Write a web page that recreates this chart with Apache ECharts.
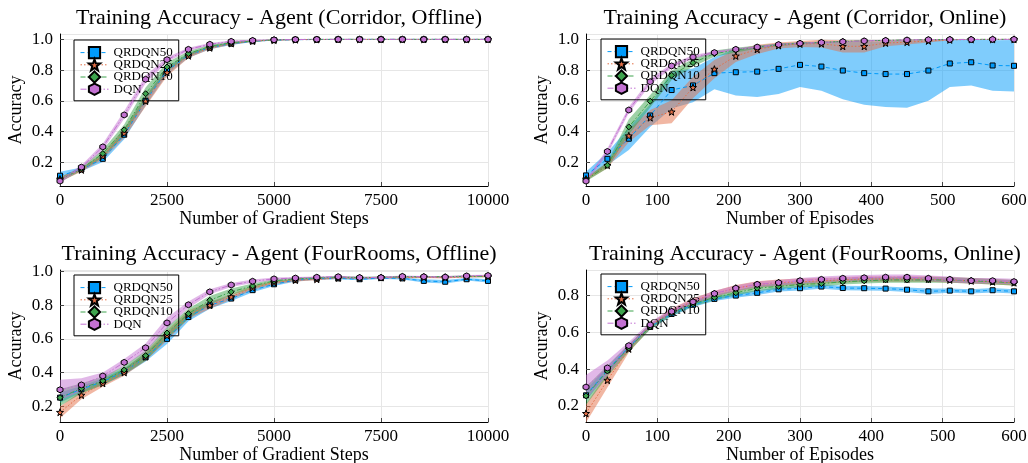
<!DOCTYPE html>
<html>
<head>
<meta charset="utf-8">
<script src="https://cdn.jsdelivr.net/npm/echarts@6.0.0/dist/echarts.min.js"></script>
<style>
html, body { margin: 0; padding: 0; background: #fff; }
#chart { width: 1028px; height: 463px; }
</style>
</head>
<body>
<div id="chart"></div>
<script>
// x positions
var steps = [0, 500, 1000, 1500, 2000, 2500, 3000, 3500, 4000, 4500, 5000, 5500, 6000, 6500, 7000, 7500, 8000, 8500, 9000, 9500, 10000]
var episodes = [0, 30, 60, 90, 120, 150, 180, 210, 240, 270, 300, 330, 360, 390, 420, 450, 480, 510, 540, 570, 600]

// Corridor, offline
var coOff50 = [0.112, 0.153, 0.222, 0.379, 0.600, 0.795, 0.896, 0.946, 0.972, 0.988, 0.995, 0.998, 0.999, 1.0, 1.0, 1.0, 1.0, 1.0, 1.0, 1.0, 1.0]
var coOff25 = [0.090, 0.150, 0.240, 0.390, 0.598, 0.785, 0.893, 0.945, 0.973, 0.989, 0.995, 0.998, 0.999, 1.0, 1.0, 1.0, 1.0, 1.0, 1.0, 1.0, 1.0]
var coOff10 = [0.085, 0.157, 0.256, 0.411, 0.646, 0.820, 0.907, 0.955, 0.978, 0.990, 0.996, 0.999, 1.0, 1.0, 1.0, 1.0, 1.0, 1.0, 1.0, 1.0, 1.0]
var coOffDqn = [0.077, 0.168, 0.300, 0.508, 0.740, 0.868, 0.935, 0.968, 0.987, 0.993, 0.997, 0.999, 1.0, 1.0, 1.0, 1.0, 1.0, 1.0, 1.0, 1.0, 1.0]
var coOff50Sd = [0.025, 0.012, 0.02, 0.03, 0.03, 0.025, 0.015, 0.01, 0.008, 0.005, 0.003, 0.002, 0.001, 0, 0, 0, 0, 0, 0, 0, 0]
var coOff25Sd = [0.015, 0.012, 0.02, 0.03, 0.035, 0.025, 0.015, 0.01, 0.008, 0.005, 0.003, 0.002, 0.001, 0, 0, 0, 0, 0, 0, 0, 0]
var coOff10Sd = [0.015, 0.012, 0.025, 0.035, 0.04, 0.03, 0.015, 0.01, 0.008, 0.005, 0.003, 0.002, 0.001, 0, 0, 0, 0, 0, 0, 0, 0]
var coOffDqnSd = [0.012, 0.012, 0.02, 0.025, 0.025, 0.015, 0.01, 0.008, 0.005, 0.004, 0.003, 0.002, 0.001, 0, 0, 0, 0, 0, 0, 0, 0]

// Corridor, online
var coOn50 = [0.114, 0.222, 0.353, 0.504, 0.670, 0.700, 0.780, 0.786, 0.790, 0.808, 0.834, 0.823, 0.797, 0.780, 0.774, 0.774, 0.797, 0.843, 0.851, 0.830, 0.828]
var coOn25 = [0.090, 0.180, 0.372, 0.490, 0.528, 0.687, 0.806, 0.892, 0.935, 0.960, 0.970, 0.972, 0.955, 0.955, 0.976, 0.982, 0.990, 0.997, 0.999, 1.0, 1.0]
var coOn10 = [0.085, 0.180, 0.430, 0.597, 0.766, 0.848, 0.907, 0.930, 0.950, 0.965, 0.975, 0.980, 0.987, 0.990, 0.994, 0.996, 0.998, 0.999, 1.0, 1.0, 1.0]
var coOnDqn = [0.077, 0.270, 0.540, 0.724, 0.827, 0.885, 0.914, 0.935, 0.950, 0.966, 0.974, 0.980, 0.985, 0.990, 0.993, 0.996, 0.998, 0.999, 0.999, 1.0, 1.0]
var coOn50Sd = [0.024, 0.042, 0.073, 0.074, 0.12, 0.11, 0.105, 0.151, 0.165, 0.163, 0.144, 0.158, 0.187, 0.205, 0.214, 0.219, 0.197, 0.153, 0.151, 0.165, 0.168]
var coOn25Sd = [0.01, 0.02, 0.04, 0.05, 0.075, 0.07, 0.06, 0.04, 0.03, 0.02, 0.02, 0.025, 0.04, 0.04, 0.02, 0.015, 0.01, 0.003, 0.001, 0, 0]
var coOn10Sd = [0.01, 0.02, 0.05, 0.04, 0.03, 0.025, 0.02, 0.015, 0.01, 0.008, 0.006, 0.005, 0.004, 0.003, 0.002, 0.002, 0.001, 0.001, 0, 0, 0]
var coOnDqnSd = [0.01, 0.02, 0.02, 0.02, 0.015, 0.012, 0.01, 0.008, 0.007, 0.006, 0.005, 0.004, 0.003, 0.003, 0.002, 0.002, 0.001, 0.001, 0.001, 0, 0]

// FourRooms, offline
var frOff50 = [0.250, 0.300, 0.345, 0.405, 0.490, 0.600, 0.730, 0.800, 0.840, 0.890, 0.925, 0.950, 0.958, 0.960, 0.955, 0.962, 0.960, 0.945, 0.940, 0.955, 0.945]
var frOff25 = [0.163, 0.265, 0.335, 0.400, 0.495, 0.620, 0.745, 0.800, 0.850, 0.905, 0.935, 0.950, 0.955, 0.963, 0.962, 0.965, 0.965, 0.967, 0.965, 0.970, 0.972]
var frOff10 = [0.250, 0.305, 0.350, 0.415, 0.500, 0.635, 0.750, 0.830, 0.880, 0.915, 0.945, 0.958, 0.963, 0.968, 0.965, 0.966, 0.970, 0.970, 0.970, 0.972, 0.972]
var frOffDqn = [0.297, 0.326, 0.379, 0.460, 0.547, 0.695, 0.803, 0.880, 0.921, 0.943, 0.957, 0.962, 0.967, 0.970, 0.965, 0.965, 0.972, 0.970, 0.968, 0.975, 0.977]
var frOff50Sd = [0.03, 0.02, 0.02, 0.02, 0.025, 0.03, 0.025, 0.02, 0.015, 0.012, 0.01, 0.008, 0.006, 0.005, 0.006, 0.005, 0.006, 0.01, 0.01, 0.008, 0.01]
var frOff25Sd = [0.035, 0.025, 0.02, 0.02, 0.025, 0.03, 0.025, 0.02, 0.015, 0.012, 0.01, 0.008, 0.006, 0.005, 0.005, 0.005, 0.005, 0.005, 0.005, 0.005, 0.005]
var frOff10Sd = [0.05, 0.03, 0.025, 0.025, 0.03, 0.035, 0.03, 0.025, 0.02, 0.015, 0.01, 0.008, 0.006, 0.005, 0.005, 0.005, 0.005, 0.005, 0.005, 0.005, 0.005]
var frOffDqnSd = [0.06, 0.04, 0.02, 0.02, 0.025, 0.03, 0.02, 0.015, 0.012, 0.01, 0.008, 0.006, 0.005, 0.005, 0.005, 0.005, 0.005, 0.005, 0.005, 0.005, 0.005]

// FourRooms, online
var frOn50 = [0.258, 0.395, 0.520, 0.630, 0.700, 0.750, 0.782, 0.800, 0.815, 0.834, 0.840, 0.849, 0.841, 0.840, 0.838, 0.832, 0.823, 0.827, 0.823, 0.829, 0.823]
var frOn25 = [0.160, 0.340, 0.510, 0.635, 0.715, 0.770, 0.810, 0.840, 0.860, 0.870, 0.875, 0.880, 0.885, 0.890, 0.890, 0.890, 0.890, 0.885, 0.880, 0.875, 0.870]
var frOn10 = [0.255, 0.390, 0.515, 0.630, 0.705, 0.755, 0.790, 0.815, 0.840, 0.850, 0.860, 0.865, 0.875, 0.880, 0.885, 0.885, 0.885, 0.885, 0.880, 0.875, 0.870]
var frOnDqn = [0.303, 0.407, 0.528, 0.641, 0.714, 0.766, 0.811, 0.840, 0.861, 0.870, 0.881, 0.888, 0.894, 0.897, 0.900, 0.900, 0.894, 0.888, 0.881, 0.881, 0.876]
var frOn50Sd = [0.03, 0.02, 0.015, 0.012, 0.012, 0.012, 0.012, 0.012, 0.012, 0.012, 0.012, 0.012, 0.012, 0.012, 0.012, 0.012, 0.015, 0.012, 0.012, 0.012, 0.012]
var frOn25Sd = [0.05, 0.04, 0.02, 0.015, 0.015, 0.015, 0.015, 0.018, 0.018, 0.018, 0.018, 0.015, 0.015, 0.015, 0.015, 0.015, 0.015, 0.015, 0.015, 0.015, 0.015]
var frOn10Sd = [0.05, 0.03, 0.02, 0.015, 0.015, 0.015, 0.015, 0.015, 0.015, 0.015, 0.015, 0.015, 0.015, 0.015, 0.015, 0.015, 0.015, 0.015, 0.015, 0.015, 0.015]
var frOnDqnSd = [0.065, 0.04, 0.02, 0.015, 0.015, 0.015, 0.015, 0.015, 0.015, 0.015, 0.015, 0.015, 0.015, 0.015, 0.015, 0.015, 0.015, 0.015, 0.015, 0.015, 0.015]

var methods = ['QRDQN50', 'QRDQN25', 'QRDQN10', 'DQN']
var colors = ['#009afa', '#e36f47', '#3ea44e', '#c371d2']
var symbols = [
    'rect',
    'path://M0,-10L2.35,-3.24L9.51,-3.09L3.8,1.23L5.88,8.09L0,4L-5.88,8.09L-3.8,1.23L-9.51,-3.09L-2.35,-3.24Z',
    'diamond',
    'path://M0,-10L8.66,-5L8.66,5L0,10L-8.66,5L-8.66,-5Z'
]
var symbolSizes = [5, 7, 6, 6]
var dashes = [[4, 3], [1.5, 2], [5, 2, 1.5, 2], [6, 2, 1.5, 2, 1.5, 2]]

var font = 'Liberation Serif'

var panels = [
    { title: 'Training Accuracy - Agent (Corridor, Offline)', xName: 'Number of Gradient Steps', x: steps, xMax: 10000, xInt: 2500,
      yMin: 0.045, yMax: 1.035, grid: { left: 60, top: 34, width: 428, height: 152 }, legend: { left: 74, top: 40 },
      means: [coOff50, coOff25, coOff10, coOffDqn], sds: [coOff50Sd, coOff25Sd, coOff10Sd, coOffDqnSd] },
    { title: 'Training Accuracy - Agent (Corridor, Online)', xName: 'Number of Episodes', x: episodes, xMax: 600, xInt: 100,
      yMin: 0.045, yMax: 1.035, grid: { left: 586, top: 34, width: 428, height: 152 }, legend: { left: 601, top: 39 },
      means: [coOn50, coOn25, coOn10, coOnDqn], sds: [coOn50Sd, coOn25Sd, coOn10Sd, coOnDqnSd] },
    { title: 'Training Accuracy - Agent (FourRooms, Offline)', xName: 'Number of Gradient Steps', x: steps, xMax: 10000, xInt: 2500,
      yMin: 0.105, yMax: 1.01, grid: { left: 60, top: 270, width: 428, height: 152 }, legend: { left: 74, top: 275 },
      means: [frOff50, frOff25, frOff10, frOffDqn], sds: [frOff50Sd, frOff25Sd, frOff10Sd, frOffDqnSd] },
    { title: 'Training Accuracy - Agent (FourRooms, Online)', xName: 'Number of Episodes', x: episodes, xMax: 600, xInt: 100,
      yMin: 0.113, yMax: 0.939, grid: { left: 586, top: 270, width: 428, height: 152 }, legend: { left: 601, top: 274 },
      means: [frOn50, frOn25, frOn10, frOnDqn], sds: [frOn50Sd, frOn25Sd, frOn10Sd, frOnDqnSd] }
]

// one filled polygon (upper edge, then lower edge back) per ribbon
function ribbon(xs, mean, sd, color) {
    return function (params, api) {
        if (params.dataIndex !== 0) return
        var pts = []
        for (var i = 0; i < xs.length; i++) pts.push(api.coord([xs[i], Math.min(1, mean[i] + sd[i])]))
        for (var j = xs.length - 1; j >= 0; j--) pts.push(api.coord([xs[j], mean[j] - sd[j]]))
        var cs = params.coordSys
        return {
            type: 'polygon',
            shape: { points: pts },
            style: { fill: color, opacity: 0.5 },
            clipPath: { type: 'rect', shape: { x: cs.x, y: cs.y, width: cs.width, height: cs.height } }
        }
    }
}

var titles = [], grids = [], xAxes = [], yAxes = [], legends = [], series = []
panels.forEach(function (p, gi) {
    titles.push({
        text: p.title,
        left: p.grid.left + p.grid.width / 2,
        top: p.grid.top - 32,
        textAlign: 'center',
        textStyle: { fontFamily: font, fontSize: 22, fontWeight: 'normal', color: '#000' }
    })
    grids.push(Object.assign({ outerBoundsMode: 'none' }, p.grid))
    xAxes.push({
        type: 'value', gridIndex: gi, min: 0, max: p.xMax, interval: p.xInt,
        name: p.xName, nameLocation: 'middle', nameGap: 23,
        nameTextStyle: { fontFamily: font, fontSize: 18, color: '#000' },
        axisLine: { onZero: false, lineStyle: { color: '#000', width: 1 } },
        axisTick: { inside: true, length: 4, lineStyle: { color: '#444' } },
        axisLabel: { fontFamily: font, fontSize: 17, color: '#000', margin: 6, formatter: function (v) { return String(v) } },
        splitLine: { show: true, lineStyle: { color: '#e6e6e6', width: 1 } }
    })
    yAxes.push({
        type: 'value', gridIndex: gi, min: p.yMin, max: p.yMax, splitNumber: 5,
        name: 'Accuracy', nameLocation: 'middle', nameGap: 35, nameRotate: 90,
        nameTextStyle: { fontFamily: font, fontSize: 18, color: '#000' },
        axisLine: { show: true, onZero: false, lineStyle: { color: '#000', width: 1 } },
        axisTick: { show: true, inside: true, length: 4, lineStyle: { color: '#444' } },
        axisLabel: { fontFamily: font, fontSize: 17, color: '#000', margin: 7, showMinLabel: false, showMaxLabel: false,
            formatter: function (v) { return v.toFixed(1) } },
        splitLine: { show: true, lineStyle: { color: '#e6e6e6', width: 1 } }
    })
    legends.push({
        data: methods, left: p.legend.left, top: p.legend.top, orient: 'vertical',
        itemWidth: 28, itemHeight: 14, itemGap: -1, padding: [6, 6, 5, 6],
        borderColor: '#000', borderWidth: 1, backgroundColor: 'transparent',
        selectedMode: false, z: 2,
        lineStyle: { width: 1 },
        textStyle: { fontFamily: font, fontSize: 13, color: '#000' }
    })
    methods.forEach(function (m, mi) {
        series.push({
            name: m + ' band', type: 'custom', xAxisIndex: gi, yAxisIndex: gi,
            data: [[p.x[0], p.means[mi][0]]],
            renderItem: ribbon(p.x, p.means[mi], p.sds[mi], colors[mi]),
            silent: true, z: 1
        })
    })
    methods.forEach(function (m, mi) {
        var mean = p.means[mi]
        series.push({
            name: m, type: 'line', xAxisIndex: gi, yAxisIndex: gi,
            data: p.x.map(function (v, i) { return [v, mean[i]] }),
            symbol: symbols[mi], symbolSize: symbolSizes[mi], showAllSymbol: true,
            itemStyle: { color: colors[mi], borderColor: '#000', borderWidth: 1 },
            lineStyle: { color: colors[mi], width: 1, type: dashes[mi] },
            z: 3
        })
    })
})

var myChart = echarts.init(document.getElementById('chart'))
option = {
    animation: false,
    backgroundColor: '#fff',
    title: titles,
    grid: grids,
    xAxis: xAxes,
    yAxis: yAxes,
    legend: legends,
    series: series
}
myChart.setOption(option)
</script>
</body>
</html>
